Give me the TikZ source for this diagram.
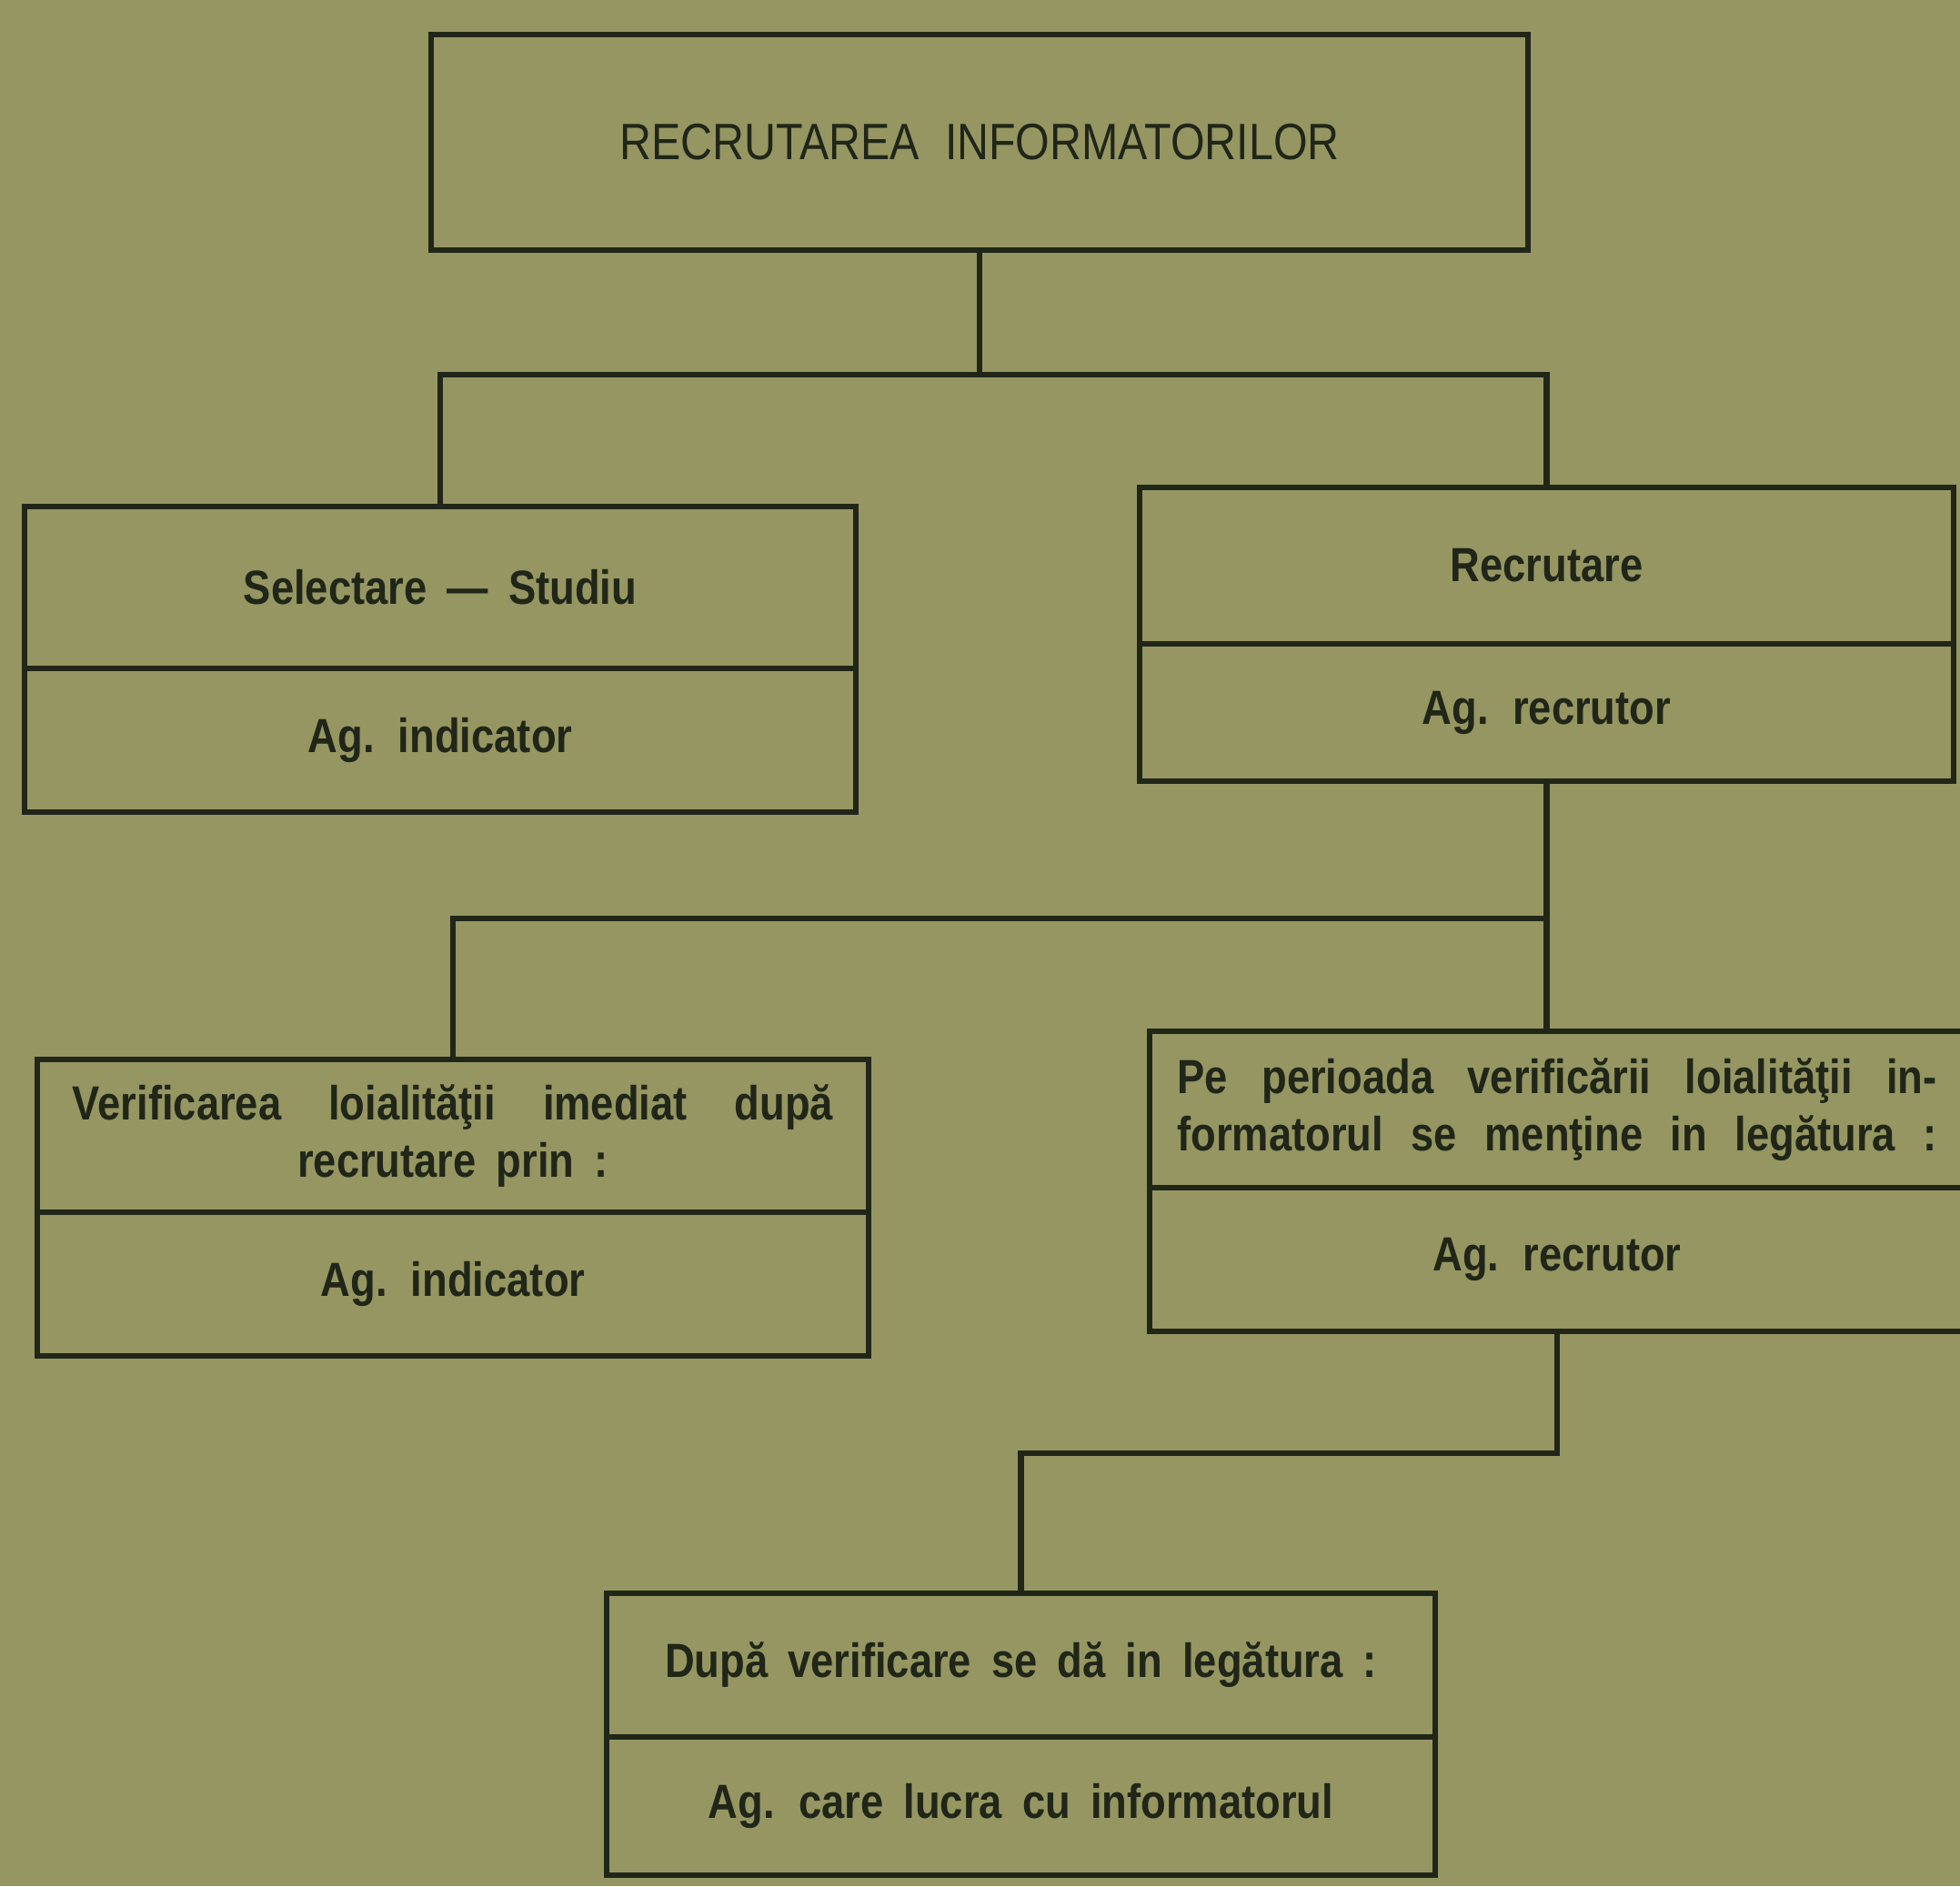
\documentclass[tikz,border=0pt]{standalone}
\usepackage{fontspec}
\setmainfont{Liberation Sans}[FakeStretch=0.86]

\definecolor{paper}{RGB}{150,150,98}
\definecolor{ink}{RGB}{32,38,24}

\begin{document}
\begin{tikzpicture}[
    cell/.style={draw=ink,line width=1.8pt,inner sep=0pt,text=ink,
      font={\fontsize{15}{18}\selectfont\bfseries\spaceskip=0.42em plus 0.3em}},
    link/.style={draw=ink,line width=1.8pt}]
    %% page
    \fill[paper] (0,0) rectangle (21.55,-20.74);
    \useasboundingbox (0,0) rectangle (21.55,-20.74);
    %% title
    \node[cell,minimum width=12.06cm,minimum height=2.37cm,
      font={\fontsize{16}{19}\selectfont\spaceskip=0.5em}] (titlu) at (10.77,-1.565) {RECRUTAREA INFORMATORILOR};
    %% selectare - studiu
    \node[cell,minimum width=9.14cm,minimum height=1.78cm] (selectare) at (4.84,-6.46) {Selectare — Studiu};
    \node[cell,minimum width=9.14cm,minimum height=1.58cm] (agind) at (4.84,-8.14) {Ag. indicator};
    %% recrutare
    \node[cell,minimum width=8.95cm,minimum height=1.72cm] (recrutare) at (17.005,-6.22) {Recrutare};
    \node[cell,minimum width=8.95cm,minimum height=1.51cm] (agrec) at (17.005,-7.835) {Ag. recrutor};
    %% verificarea loialitatii
    \node[cell,minimum width=9.14cm,minimum height=1.68cm,align=center] (verif) at (4.98,-12.49)
      {\makebox[8.36cm][s]{Verificarea loialităţii imediat după}\\ recrutare prin :};
    \node[cell,minimum width=9.14cm,minimum height=1.58cm] (agind2) at (4.98,-14.12) {Ag. indicator};
    %% pe perioada verificarii
    \node[cell,minimum width=8.96cm,minimum height=1.72cm,align=center] (perioada) at (17.12,-12.2)
      {\makebox[8.35cm][s]{Pe perioada verificării loialităţii in-}\\
       \makebox[8.35cm][s]{formatorul se menţine in legătura :}};
    \node[cell,minimum width=8.96cm,minimum height=1.58cm] (agrec2) at (17.12,-13.85) {Ag. recrutor};
    %% dupa verificare
    \node[cell,minimum width=9.11cm,minimum height=1.58cm] (dupa) at (11.225,-18.31) {După verificare se dă in legătura :};
    \node[cell,minimum width=9.11cm,minimum height=1.52cm] (aglucra) at (11.225,-19.86) {Ag. care lucra cu informatorul};
    %% links
    \coordinate (j1) at (titlu.south |- 0,-4.12);
    \draw[link] (titlu.south) -- (j1);
    \draw[link] (selectare.north) |- (j1) -| (recrutare.north);
    \coordinate (j2) at (agrec.south |- 0,-10.10);
    \draw[link] (agrec.south) -- (agrec.south |- perioada.north);
    \draw[link] (verif.north) |- (j2);
    \coordinate (j3) at (agrec2.south |- 0,-15.98);
    \draw[link] (agrec2.south) -- (j3) -| (dupa.north);
\end{tikzpicture}
\end{document}
